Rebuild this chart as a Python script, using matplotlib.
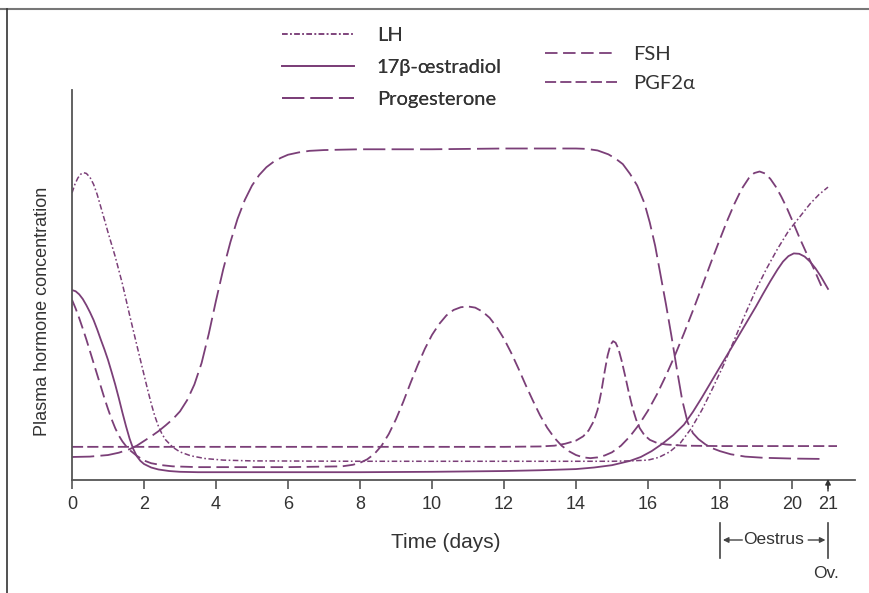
import matplotlib
matplotlib.use("Agg")
import matplotlib.pyplot as plt
from matplotlib.lines import Line2D
import matplotlib.transforms as mtransforms

plt.rcParams['lines.scale_dashes'] = False

# ---------------- data ----------------
prog_days = [0, 0.5, 1.0, 1.3, 1.6, 1.8, 2.0, 2.2, 2.4, 2.6, 2.8, 3.0, 3.2, 3.4, 3.6, 3.8,
             4.0, 4.2, 4.4, 4.6, 4.8, 5.0, 5.2, 5.4, 5.6, 5.8, 6.0, 6.3, 6.6, 7.0, 8, 10,
             12, 14.0, 14.3, 14.6, 14.9, 15.1, 15.3, 15.5, 15.7, 15.9, 16.05, 16.2, 16.35,
             16.5, 16.65, 16.8, 16.95, 17.1, 17.25, 17.4, 17.6, 17.8, 18.0, 18.3, 18.7,
             19.2, 20.0, 20.85]
prog_vals = [5.9, 6.0, 6.4, 7.0, 7.9, 8.8, 10.0, 11.2, 12.5, 14.0, 15.6, 17.6, 20.5, 24.5,
             30, 37.5, 46, 54, 61, 67, 71.8, 75.5, 78.2, 80.2, 81.6, 82.6, 83.4, 84.0, 84.4,
             84.6, 84.8, 84.8, 85.0, 85.0, 84.9, 84.5, 83.5, 82.4, 81, 78.5, 75.5, 71, 66,
             60, 52.5, 45, 37, 28.5, 20.5, 14.8, 12, 10.5, 9.1, 8.1, 7.4, 6.6, 6.0, 5.7,
             5.5, 5.4]

oes_days = [0, 0.1, 0.2, 0.3, 0.4, 0.5, 0.6, 0.7, 0.8, 0.9, 1.0, 1.1, 1.2, 1.3, 1.4, 1.5,
            1.6, 1.7, 1.8, 1.9, 2.0, 2.2, 2.4, 2.7, 3.0, 3.5, 6, 8, 10, 12, 13, 14, 14.5,
            15.0, 15.5, 15.8, 16.1, 16.4, 16.7, 17.0, 17.25, 17.5, 18.0, 18.5, 19.0, 19.2,
            19.4, 19.6, 19.75, 19.9, 20.05, 20.2, 20.35, 20.5, 20.65, 20.8, 21.0]
oes_vals = [48.7, 48.4, 47.6, 46.4, 44.8, 43.0, 41, 38.6, 36, 33.5, 30.8, 27.7, 24.5, 21,
            17.3, 13.8, 10.6, 8.0, 6.1, 4.9, 4.1, 3.2, 2.7, 2.3, 2.1, 2.0, 2.0, 2.0, 2.1,
            2.3, 2.5, 2.8, 3.2, 3.8, 4.9, 5.9, 7.4, 9.3, 11.5, 14.2, 17.5, 21.2, 29, 36.7,
            44.5, 47.8, 51, 54, 56, 57.4, 58.1, 58.0, 57.3, 56.0, 54.3, 52.2, 49.0]

lh_days = [0, 0.08, 0.16, 0.24, 0.32, 0.4, 0.5, 0.6, 0.7, 0.8, 0.9, 1.0, 1.2, 1.4, 1.6,
           1.8, 2.0, 2.1, 2.2, 2.3, 2.4, 2.5, 2.6, 2.8, 3.0, 3.3, 3.7, 4.2, 5, 8, 11, 14,
           15, 15.5, 16.0, 16.3, 16.6, 16.9, 17.2, 17.5, 17.8, 18.1, 18.4, 18.7, 19.0,
           19.3, 19.6, 19.9, 20.2, 20.5, 20.75, 21.0]
lh_vals = [73.6, 75.8, 77.4, 78.4, 78.8, 78.6, 77.6, 75.8, 73.2, 70.0, 66.8, 63.5, 57.3,
           50.3, 42.3, 34.6, 27.0, 23.2, 19.6, 16.4, 13.8, 11.8, 10.3, 8.4, 7.2, 6.2, 5.5,
           5.1, 4.9, 4.8, 4.8, 4.8, 4.8, 4.9, 5.1, 5.8, 7.2, 9.5, 13.2, 18, 23.6, 29.5, 36,
           42.5, 48.8, 54.3, 59.3, 63.8, 67.3, 70.8, 73.2, 75.1]

fsh_days = [0, 0.1, 0.2, 0.3, 0.4, 0.5, 0.6, 0.7, 0.8, 0.9, 1.0, 1.1, 1.2, 1.3, 1.4, 1.5,
            1.6, 1.8, 2.0, 2.2, 2.5, 2.8, 3.5, 6, 7.5, 7.8, 8.0, 8.2, 8.4, 8.6, 8.8, 9.0,
            9.2, 9.4, 9.6, 9.8, 10.0, 10.2, 10.4, 10.6, 10.8, 11.0, 11.2, 11.4, 11.6, 11.8,
            12.0, 12.2, 12.4, 12.6, 12.8, 13.0, 13.2, 13.4, 13.6, 13.8, 14.0, 14.2, 14.4,
            14.6, 14.8, 15.0, 15.25, 15.5, 15.75, 16.0, 16.25, 16.5, 16.75, 17.0, 17.25,
            17.5, 17.75, 18.0, 18.2, 18.4, 18.6, 18.8, 18.95, 19.1, 19.25, 19.4, 19.55,
            19.7, 19.85, 20.0, 20.2, 20.4, 20.6, 20.85]
fsh_vals = [46.2, 44.0, 41.5, 38.8, 36.0, 33.0, 30.0, 27.0, 24.0, 21.0, 18.2, 15.6, 13.3,
            11.4, 9.9, 8.7, 7.7, 6.2, 5.0, 4.3, 3.8, 3.5, 3.3, 3.3, 3.5, 3.9, 4.4, 5.3, 6.7,
            8.8, 11.8, 15.6, 20.0, 24.8, 29.4, 33.6, 37.2, 40.0, 42.2, 43.6, 44.3, 44.5,
            44.2, 43.2, 41.6, 39.2, 36.2, 32.6, 28.6, 24.4, 20.4, 16.6, 13.4, 10.8, 8.8,
            7.4, 6.4, 5.8, 5.6, 5.8, 6.3, 7.1, 8.8, 11.2, 14.2, 17.8, 22.0, 26.8, 32, 37.6,
            43.5, 49.6, 55.8, 61.8, 66.5, 70.8, 74.6, 77.4, 78.7, 79.1, 78.6, 77.2, 75.2,
            72.7, 69.9, 66.7, 62.3, 58.2, 54.3, 49.0]

pgf_days = [0, 6, 12, 13.0, 13.4, 13.7, 14.0, 14.2, 14.35, 14.5, 14.6, 14.7, 14.8, 14.88,
            14.96, 15.03, 15.1, 15.18, 15.27, 15.37, 15.47, 15.57, 15.67, 15.77, 15.9,
            16.05, 16.25, 16.5, 17, 18, 21.25]
pgf_vals = [8.5, 8.5, 8.5, 8.6, 8.8, 9.3, 10.1, 11.2, 12.7, 15.2, 18.0, 22.5, 28.0, 32.0,
            34.7, 35.6, 35.2, 33.6, 30.5, 26.5, 22.3, 18.5, 15.5, 13.3, 11.5, 10.3, 9.5,
            9.1, 8.8, 8.7, 8.7]

x_ticks = [0, 2, 4, 6, 8, 10, 12, 14, 16, 18, 20, 21]
x_ticklabels = ['0', '2', '4', '6', '8', '10', '12', '14', '16', '18', '20', '21']

# ---------------- figure ----------------
W, H = 870, 593
fig = plt.figure(figsize=(W / 100, H / 100), dpi=100)
ax = fig.add_axes([72 / W, (H - 480) / H, 783 / W, 390 / H])

col = '#7b3f78'
lw = 1.3
l_lh, = ax.plot(lh_days, lh_vals, color=col, lw=1.1, ls=(0, (4, 1.8, 1.2, 1.8)), label='LH')
l_oe, = ax.plot(oes_days, oes_vals, color=col, lw=lw, ls='-', label='17β-œstradiol')
l_pr, = ax.plot(prog_days, prog_vals, color=col, lw=lw, ls=(0, (16, 4.5)), label='Progesterone')
l_fs, = ax.plot(fsh_days, fsh_vals, color=col, lw=lw, ls=(0, (9, 4)), label='FSH')
l_pg, = ax.plot(pgf_days, pgf_vals, color=col, lw=lw, ls=(0, (8, 3)), label='PGF2α')

ax.set_xlim(0, 21.75)
ax.set_ylim(0, 100)
ax.spines['top'].set_visible(False)
ax.spines['right'].set_visible(False)
for s in ('left', 'bottom'):
    ax.spines[s].set_color('#555555')
    ax.spines[s].set_linewidth(1.3)
ax.set_yticks([])
ax.set_xticks(x_ticks)
ax.set_xticklabels(x_ticklabels, fontsize=13, family=['Liberation Sans', 'DejaVu Sans'], color='#333333')
ax.tick_params(axis='x', direction='out', length=6.5, width=1.2, color='#555555', pad=5)

ax.set_xlabel('Time (days)', fontsize=15, family=['Liberation Sans', 'DejaVu Sans'], color='#333333')
ax.xaxis.label.set_va('center')
ax.xaxis.set_label_coords((446 - 72) / 783, -(543 - 480) / 390)
ax.set_ylabel('Plasma hormone concentration', fontsize=13, family=['Liberation Sans', 'DejaVu Sans'],
              color='#333333')
ax.yaxis.label.set_va('center')
ax.yaxis.set_label_coords((43 - 72) / 783, (480 - 311) / 390)

# oestrus bracket and ovulation marker
trans = mtransforms.blended_transform_factory(ax.transData, ax.transAxes)
yb0, yb1 = -(523 - 480) / 390, -(558 - 480) / 390
ym = -(540 - 480) / 390
for xb in (18, 21):
    ax.plot([xb, xb], [yb0, yb1], transform=trans, color='#444444', lw=1.2, clip_on=False)
ax.text(19.5, ym, 'Oestrus', transform=trans, ha='center', va='center', fontsize=12.5,
        family=['Liberation Sans', 'DejaVu Sans'], color='#333333')
ax.annotate('', xy=(18.08, ym), xytext=(18.62, ym), xycoords=trans, textcoords=trans,
            arrowprops=dict(arrowstyle='-|>', color='#444444', lw=1.0, mutation_scale=8,
                            shrinkA=0, shrinkB=0))
ax.annotate('', xy=(20.93, ym), xytext=(20.45, ym), xycoords=trans, textcoords=trans,
            arrowprops=dict(arrowstyle='-|>', color='#444444', lw=1.0, mutation_scale=8,
                            shrinkA=0, shrinkB=0))
ax.text(20.94, -(573.5 - 480) / 390, 'Ov.', transform=trans, ha='center', va='center',
        fontsize=12.5, family=['Liberation Sans', 'DejaVu Sans'], color='#333333')
ax.annotate('', xy=(21, -(479 - 480) / 390), xytext=(21, -(491 - 480) / 390),
            xycoords=trans, textcoords=trans,
            arrowprops=dict(arrowstyle='-|>', color='#333333', lw=1.0, mutation_scale=8,
                            shrinkA=0, shrinkB=0))

# legends
leg_font = {'family': ['Lato', 'DejaVu Sans'], 'size': 14.5}
leg1 = fig.legend(handles=[l_lh, l_oe, l_pr], loc='upper left',
                  bbox_to_anchor=(282 / W, 1 - 27 / H), frameon=False, prop=leg_font,
                  handlelength=3.6, handletextpad=1.1, labelspacing=0.75,
                  borderpad=0, borderaxespad=0, labelcolor='#333333')
leg2 = fig.legend(handles=[l_fs, l_pg], loc='upper left',
                  bbox_to_anchor=(545 / W, 1 - 46 / H), frameon=False, prop=leg_font,
                  handlelength=3.6, handletextpad=0.8, labelspacing=0.6,
                  borderpad=0, borderaxespad=0, labelcolor='#333333')
fig.add_artist(leg1)

# image border (top and left)
fig.add_artist(Line2D([0, 1], [1 - 9 / H, 1 - 9 / H], transform=fig.transFigure, color='#777777', lw=1.5))
fig.add_artist(Line2D([7 / W, 7 / W], [0, 1 - 9 / H], transform=fig.transFigure, color='#333333', lw=1.2))

fig.savefig('out.png', dpi=100)
